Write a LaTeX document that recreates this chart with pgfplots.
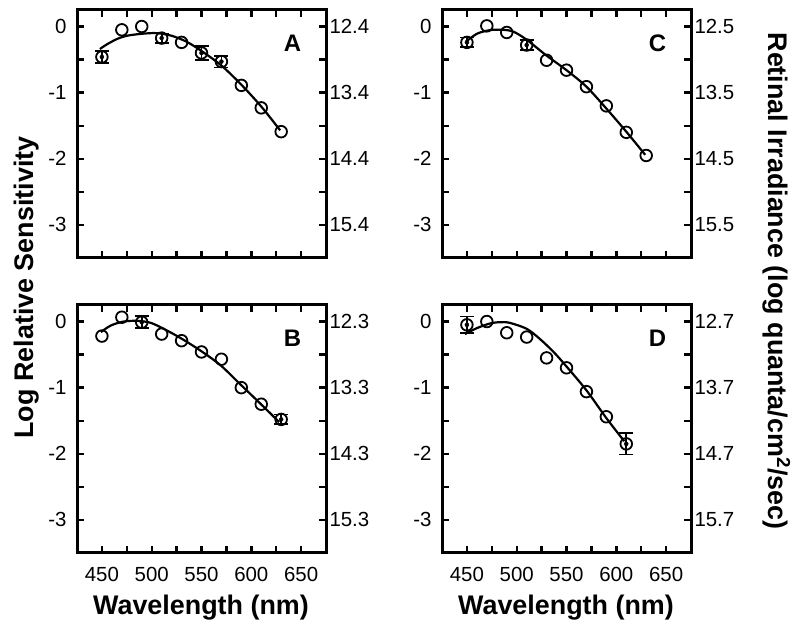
\documentclass[border=0pt]{standalone}
\usepackage{fontspec}
\setmainfont{Liberation Sans}
\usepackage{pgfplots}
\pgfplotsset{compat=1.18}
\tikzset{letter/.style={font=\bfseries\fontsize{24}{28}\selectfont}}
\newcommand\tlf{\fontsize{20.5}{24}\selectfont}
\pgfplotsset{
  panel/.style={
    scale only axis, width=249bp, height=248bp,
    xmin=425, xmax=675, ymin=-3.5, ymax=0.25,
    xtick={450,500,550,600,650}, minor xtick={475,525,575,625},
    xticklabels={\mbox{\tlf 450},\mbox{\tlf 500},\mbox{\tlf 550},\mbox{\tlf 600},\mbox{\tlf 650}},
    ytick={0,-1,-2,-3}, minor ytick={-0.5,-1.5,-2.5},
    yticklabels={\mbox{\tlf 0},\mbox{\tlf -1},\mbox{\tlf -2},\mbox{\tlf -3}},
    tick align=inside, major tick length=7bp, minor tick length=7bp,
    every tick/.style={line width=2.4bp, black},
    axis line style={line width=3bp, black},
    tick label style={font=\tlf},
    yticklabel style={xshift=-7bp},
    xticklabel style={yshift=-11bp},
    clip=false,
  },
  rightax/.style={
    scale only axis, width=249bp, height=248bp,
    xmin=425, xmax=675, ymin=-3.5, ymax=0.25,
    axis x line=none, axis y line*=right,
    ytick={0,-1,-2,-3}, minor ytick={-0.5,-1.5,-2.5},
    tick align=inside, major tick length=7bp, minor tick length=7bp,
    every tick/.style={line width=2.4bp, black},
    axis line style={line width=3bp, black},
    tick label style={font=\tlf},
  },
  curve/.style={smooth, line width=2.2bp, black, mark=none},
  pts/.style={only marks, mark=o, mark size=5.8bp, mark options={line width=1.8bp, black}},
  errs/.style={only marks, mark=none, black,
    error bars/.cd, y dir=both, y explicit,
    error bar style={draw=black, solid, line width=1.8bp},
    error mark options={draw=black, line width=1.8bp, mark size=7bp, rotate=90}},
}
\begin{document}
\begin{tikzpicture}[x=1bp,y=1bp]
\path[use as bounding box] (0,0) rectangle (800,628);

% Panel A
\begin{axis}[panel, at={(77bp,370bp)}, xticklabels={}]
\addplot[curve] coordinates {(448,-0.34)(455,-0.27)(465,-0.19)(475,-0.14)(490,-0.11)(505,-0.10)(520,-0.14)(535,-0.23)(550,-0.37)(570,-0.59)(590,-0.88)(610,-1.21)(629,-1.57)};
\addplot[pts] coordinates {(450,-0.46)(470,-0.05)(490,0.0)(510,-0.175)(530,-0.24)(550,-0.40)(570,-0.53)(590,-0.89)(610,-1.23)(630,-1.59)};
\addplot[errs] coordinates {(450,-0.46) +- (0,0.09) (510,-0.175) +- (0,0.07) (550,-0.40) +- (0,0.11) (570,-0.53) +- (0,0.09)};
\node[letter] at (rel axis cs:0.865,0.865) {A};
\end{axis}
\begin{axis}[rightax, at={(77bp,370bp)}, yticklabels={\mbox{\tlf 12.4},\mbox{\tlf 13.4},\mbox{\tlf 14.4},\mbox{\tlf 15.4}}]
\end{axis}

% Panel B
\begin{axis}[panel, at={(77bp,75bp)}]
\addplot[curve] coordinates {(449,-0.16)(459,-0.06)(472,0.0)(486,0.01)(499,-0.02)(512,-0.11)(529,-0.25)(549,-0.44)(569,-0.66)(589,-0.95)(609,-1.24)(628,-1.52)};
\addplot[pts] coordinates {(450,-0.22)(470,0.065)(490,-0.01)(510,-0.19)(530,-0.29)(550,-0.46)(570,-0.57)(590,-1.0)(610,-1.25)(630,-1.48)};
\addplot[errs] coordinates {(490,-0.01) +- (0,0.09) (630,-1.48) +- (0,0.075)};
\node[letter] at (rel axis cs:0.865,0.865) {B};
\end{axis}
\begin{axis}[rightax, at={(77bp,75bp)}, yticklabels={\mbox{\tlf 12.3},\mbox{\tlf 13.3},\mbox{\tlf 14.3},\mbox{\tlf 15.3}}]
\end{axis}

% Panel C
\begin{axis}[panel, at={(442bp,370bp)}, xticklabels={}]
\addplot[curve] coordinates {(449,-0.23)(460,-0.11)(473,-0.055)(487,-0.05)(497,-0.08)(510,-0.20)(530,-0.44)(550,-0.66)(570,-0.91)(590,-1.24)(610,-1.59)(629,-1.94)};
\addplot[pts] coordinates {(450,-0.24)(470,0.01)(490,-0.09)(510,-0.28)(530,-0.51)(550,-0.66)(570,-0.91)(590,-1.2)(610,-1.6)(630,-1.95)};
\addplot[errs] coordinates {(450,-0.24) +- (0,0.075) (510,-0.28) +- (0,0.08)};
\node[letter] at (rel axis cs:0.865,0.865) {C};
\end{axis}
\begin{axis}[rightax, at={(442bp,370bp)}, yticklabels={\mbox{\tlf 12.5},\mbox{\tlf 13.5},\mbox{\tlf 14.5},\mbox{\tlf 15.5}}]
\end{axis}

% Panel D
\begin{axis}[panel, at={(442bp,75bp)}]
\addplot[curve] coordinates {(448,-0.19)(460,-0.10)(473,-0.03)(483,-0.01)(493,-0.02)(510,-0.11)(523,-0.26)(537,-0.46)(550,-0.68)(570,-1.04)(590,-1.46)(608,-1.81)};
\addplot[pts] coordinates {(450,-0.05)(470,0.0)(490,-0.17)(510,-0.235)(530,-0.55)(550,-0.70)(570,-1.06)(590,-1.44)(610,-1.85)};
\addplot[errs] coordinates {(450,-0.05) +- (0,0.125) (610,-1.85) +- (0,0.16)};
\node[letter] at (rel axis cs:0.865,0.865) {D};
\end{axis}
\begin{axis}[rightax, at={(442bp,75bp)}, yticklabels={\mbox{\tlf 12.7},\mbox{\tlf 13.7},\mbox{\tlf 14.7},\mbox{\tlf 15.7}}]
\end{axis}

% Axis titles
\node[font=\bfseries\fontsize{27}{32}\selectfont, anchor=base] at (201,13) {Wavelength (nm)};
\node[font=\bfseries\fontsize{27}{32}\selectfont, anchor=base] at (566,13) {Wavelength (nm)};
\node[font=\bfseries\fontsize{27}{32}\selectfont, anchor=base, rotate=90] at (33,340.5) {Log Relative Sensitivity};
\node[font=\bfseries\fontsize{27}{32}\selectfont, anchor=base, rotate=-90] at (768,347) {Retinal Irradiance (log quanta/cm\textsuperscript{2}/sec)};
\end{tikzpicture}
\end{document}
